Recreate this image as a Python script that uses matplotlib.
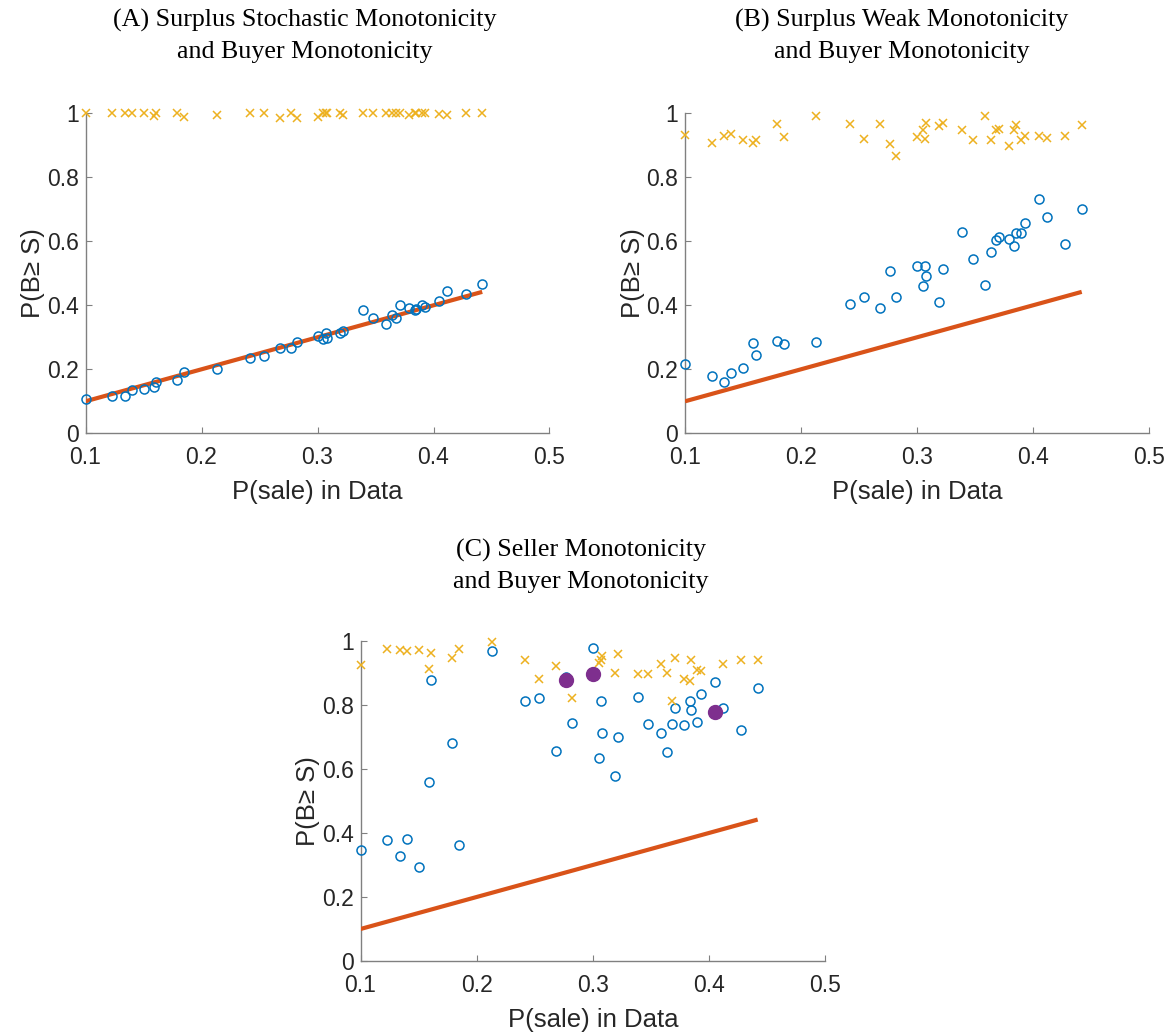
import numpy as np
import matplotlib
matplotlib.use("Agg")
import matplotlib.pyplot as plt

# Datos
p_sale = np.array([0.100, 0.123, 0.134, 0.140, 0.150, 0.159, 0.161, 0.179, 0.185,
                   0.213, 0.242, 0.254, 0.268, 0.277, 0.282, 0.300, 0.305, 0.307,
                   0.308, 0.319, 0.322, 0.339, 0.348, 0.359, 0.364, 0.368, 0.371,
                   0.379, 0.384, 0.385, 0.390, 0.393, 0.405, 0.412, 0.428, 0.442])

# (A) Surplus Stochastic Monotonicity
lower_a = [0.107, 0.116, 0.117, 0.134, 0.138, 0.145, 0.159, 0.167, 0.193,
           0.202, 0.234, 0.241, 0.268, 0.266, 0.284, 0.303, 0.295, 0.314,
           0.299, 0.313, 0.319, 0.384, 0.359, 0.340, 0.370, 0.361, 0.400,
           0.391, 0.385, 0.388, 0.402, 0.396, 0.415, 0.446, 0.435, 0.467]
upper_a = [1.000, 1.000, 1.000, 1.000, 1.000, 0.991, 1.000, 1.000, 0.989,
           0.995, 1.000, 1.000, 0.986, 1.000, 0.986, 0.989, 1.000, 1.000,
           1.000, 1.000, 0.995, 1.000, 1.000, 1.000, 1.000, 1.000, 1.000,
           0.995, 1.000, 1.000, 1.000, 1.000, 0.998, 0.994, 1.000, 1.000]

# (B) Surplus Weak Monotonicity
lower_b = [0.216, 0.179, 0.161, 0.189, 0.205, 0.282, 0.244, 0.288, 0.279,
           0.284, 0.404, 0.426, 0.391, 0.508, 0.427, 0.523, 0.459, 0.523,
           0.491, 0.411, 0.512, 0.628, 0.546, 0.464, 0.566, 0.604, 0.614,
           0.606, 0.584, 0.625, 0.625, 0.657, 0.732, 0.676, 0.591, 0.701]
upper_b = [0.933, 0.908, 0.930, 0.936, 0.917, 0.908, 0.918, 0.967, 0.927,
           0.990, 0.965, 0.919, 0.965, 0.904, 0.865, 0.927, 0.947, 0.919,
           0.971, 0.960, 0.971, 0.949, 0.917, 0.993, 0.917, 0.949, 0.952,
           0.897, 0.949, 0.963, 0.915, 0.930, 0.929, 0.924, 0.929, 0.963]

# (C) Seller Monotonicity
lower_c = [0.347, 0.377, 0.328, 0.380, 0.294, 0.559, 0.877, 0.682, 0.363,
           0.968, 0.814, 0.823, 0.657, 0.889, 0.743, 0.978, 0.635, 0.811,
           0.713, 0.578, 0.700, 0.825, 0.740, 0.714, 0.654, 0.742, 0.792,
           0.736, 0.811, 0.783, 0.746, 0.835, 0.872, 0.791, 0.723, 0.853]
upper_c = [0.924, 0.974, 0.972, 0.968, 0.972, 0.911, 0.963, 0.948, 0.976,
           0.996, 0.942, 0.881, 0.922, 0.878, 0.822, 0.896, 0.932, 0.941,
           0.952, 0.901, 0.959, 0.897, 0.897, 0.927, 0.901, 0.811, 0.948,
           0.881, 0.875, 0.942, 0.910, 0.906, 0.779, 0.929, 0.940, 0.942]
highlight_c = [13, 15, 32]  # puntos marcados en morado

titles = ["(A) Surplus Stochastic Monotonicity\nand Buyer Monotonicity",
          "(B) Surplus Weak Monotonicity\nand Buyer Monotonicity",
          "(C) Seller Monotonicity\nand Buyer Monotonicity"]

# Colores por defecto de MATLAB
BLUE = "#0072BD"
RED = "#D95319"
YELLOW = "#EDB120"
PURPLE = "#7E2F8E"

W, H = 1174, 1036
fig = plt.figure(figsize=(W / 100, H / 100), dpi=100)

# posiciones en píxeles: (izq, der, arriba, abajo)
boxes = [(85.5, 549.5, 113.3, 433.3),
         (685.0, 1149.0, 113.3, 433.3),
         (360.5, 825.0, 641.0, 961.0)]
title_cx = [305, 902, 581]
title_top = [9, 9, 539]


def style_axes(ax):
    ax.set_xlim(0.1, 0.5)
    ax.set_ylim(0, 1)
    ax.set_xticks([0.1, 0.2, 0.3, 0.4, 0.5])
    ax.set_yticks([0, 0.2, 0.4, 0.6, 0.8, 1])
    ax.set_xticklabels(["0.1", "0.2", "0.3", "0.4", "0.5"])
    ax.set_yticklabels(["0", "0.2", "0.4", "0.6", "0.8", "1"])
    for s in ["top", "right"]:
        ax.spines[s].set_visible(False)
    for s in ["left", "bottom"]:
        ax.spines[s].set_color("#808080")
        ax.spines[s].set_linewidth(1.0)
    ax.tick_params(direction="in", length=4, width=0.8, color="#808080",
                   labelsize=16.5, labelcolor="#262626", pad=5)
    ax.tick_params(axis="x", pad=9)
    for lab in ax.get_xticklabels() + ax.get_yticklabels():
        lab.set_family("Liberation Sans")
    ax.set_xlabel("P(sale) in Data", fontsize=18.5, family="Liberation Sans",
                  color="#262626", labelpad=8)
    ax.set_ylabel("P(B≥ S)", fontsize=18.5, family="Liberation Sans",
                  color="#262626", labelpad=1)


panels = [(lower_a, upper_a), (lower_b, upper_b), (lower_c, upper_c)]
for k, (lo, up) in enumerate(panels):
    l, r, t, b = boxes[k]
    ax = fig.add_axes([l / W, 1 - b / H, (r - l) / W, (b - t) / H])
    style_axes(ax)

    # recta de 45 grados
    ax.plot([p_sale.min(), p_sale.max()], [p_sale.min(), p_sale.max()],
            color=RED, linewidth=3.0, zorder=3, solid_capstyle="butt")
    ax.plot(p_sale, lo, "o", mfc="none", mec=BLUE, mew=1.1, ms=6.5,
            clip_on=False, zorder=4)
    ax.plot(p_sale, up, "x", color=YELLOW, mew=1.1, ms=5.5, clip_on=False, zorder=4)
    if k == 2:
        idx = np.array(highlight_c)
        ax.plot(p_sale[idx], np.array(up)[idx], "o", color=PURPLE, ms=10,
                clip_on=False, zorder=5)

    fig.text(title_cx[k] / W, 1 - title_top[k] / H, titles[k], ha="center",
             va="top", fontsize=18.7, family="Liberation Serif",
             linespacing=1.5, color="black")

fig.savefig("out.png", dpi=100)
